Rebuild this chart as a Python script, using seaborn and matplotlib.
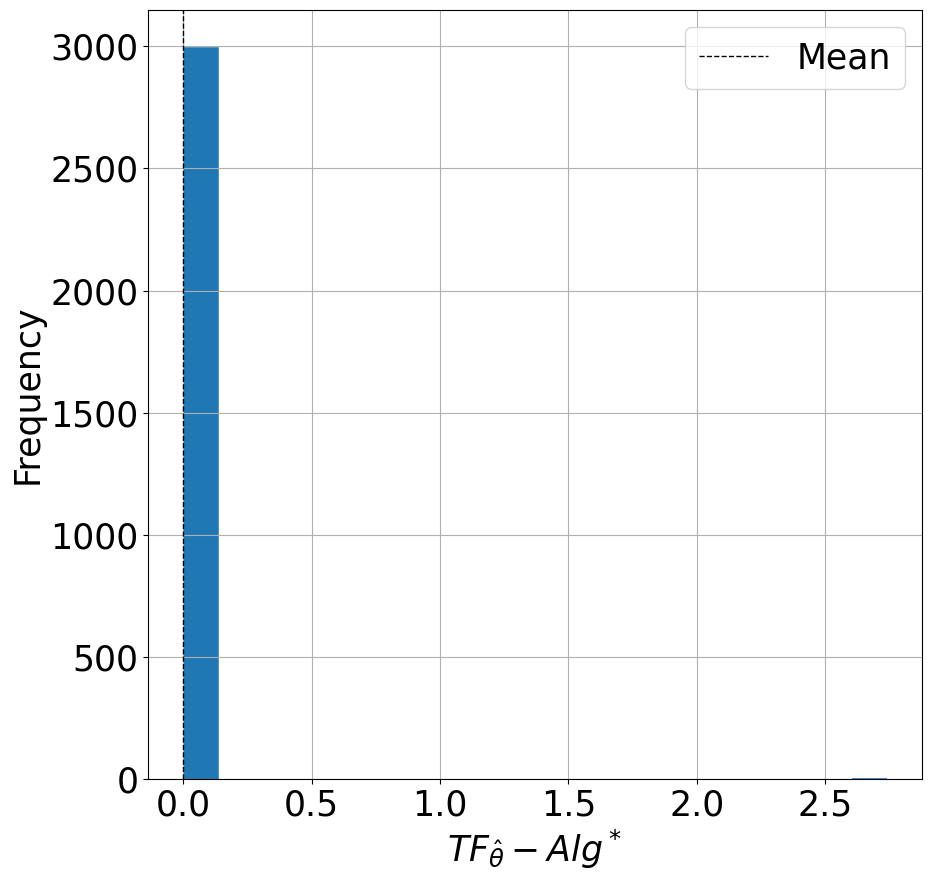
import numpy as np
import pandas as pd
import matplotlib
matplotlib.use("Agg")
import matplotlib.pyplot as plt
import seaborn as sns

# Histogram data (20 equal bins)
bin_lo = 0.0
bin_hi = 2.74
n_bins = 20
counts = [2999, 0, 0, 0, 0, 0, 0, 0, 0, 0, 0, 0, 0, 0, 0, 0, 0, 0, 0, 1]
mean_value = 0.0009

edges = np.linspace(bin_lo, bin_hi, n_bins + 1)
centers = (edges[:-1] + edges[1:]) / 2
df = pd.DataFrame({"x": centers, "w": counts})

plt.rcParams.update(plt.rcParamsDefault)
plt.rcParams["font.family"] = ["DejaVu Sans"]

FS = 25

fig = plt.figure(figsize=(9.32, 8.82), dpi=100)
ax = fig.add_axes([148 / 932, 1 - 779 / 882, (922 - 148) / 932, (779 - 10) / 882])

sns.histplot(data=df, x="x", weights="w", bins=n_bins, binrange=(bin_lo, bin_hi), ax=ax,
             color="#1f77b4", alpha=1.0, edgecolor="#1f77b4", linewidth=0.4)
# keep tiny bars visible above the bottom spine
for p in ax.patches:
    if 0 < p.get_height() < 20:
        p.set_zorder(3)
        p.set_linewidth(1.2)
ax.axvline(mean_value, color="black", linestyle="--", linewidth=1, label="Mean", zorder=3)

ax.grid(True, color="#b0b0b0", linewidth=0.8)
ax.set_axisbelow("line")
ax.set_xlabel(r"$TF_{\hat{\theta}} - Alg^*$", fontsize=FS)
ax.set_ylabel("Frequency", fontsize=FS)
ax.tick_params(axis="both", labelsize=FS)
ax.set_xticks([0.0, 0.5, 1.0, 1.5, 2.0, 2.5])
ax.set_yticks([0, 500, 1000, 1500, 2000, 2500, 3000])
ax.legend(fontsize=FS, loc="upper right")

fig.savefig("out.png", dpi=100)
